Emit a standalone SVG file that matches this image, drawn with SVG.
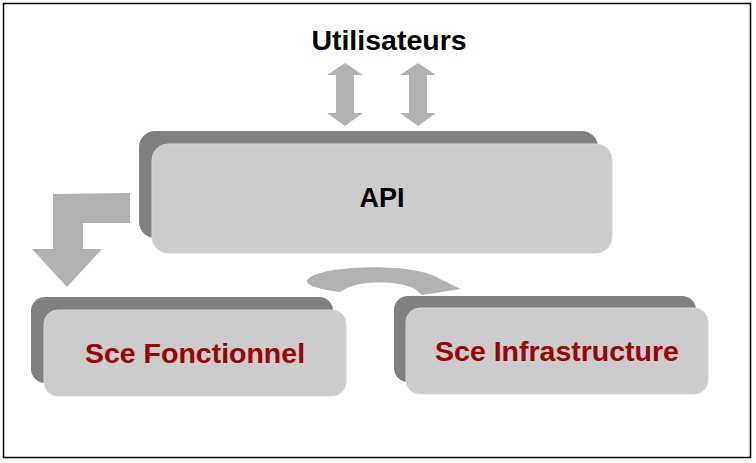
<svg xmlns="http://www.w3.org/2000/svg" width="756" height="463" viewBox="0 0 756 463">
<style>
.back{fill:#808080}
.front{fill:#cccccc;stroke:#d6d6d6;stroke-width:1}
.arrow{fill:#b2b2b2}
.lbl{font-family:"Liberation Sans",Arial,sans-serif;font-weight:bold;font-size:28.5px;text-anchor:middle}
.blk{fill:#000000}
.red{fill:#990000}
</style>
<rect x="0" y="0" width="756" height="463" fill="#ffffff"/>
<rect x="3.5" y="3.5" width="747" height="454" fill="none" stroke="#000000" stroke-width="1.5"/>
<g id="users">
<text class="lbl blk" x="389" y="50">Utilisateurs</text>
</g>
<g id="connectors">
<path class="arrow" d="M345,63 L363,75 L354,75 L354,113 L363,113 L345,126 L327,113 L336,113 L336,75 L327,75 Z"/>
<path class="arrow" d="M418,63 L436,75 L427,75 L427,113 L436,113 L418,126 L400,113 L409,113 L409,75 L400,75 Z"/>
<path class="arrow" d="M53,194 L130,193 L130,223 L83,223 L83,249 L102,249 L67,287 L32,249 L53,249 Z"/>
<path class="arrow" d="M340,292 C322,290 302,285 308,279 C322,265 414,262 440,279 L461,289 L422,295 L415,289 C400,281 360,278 340,292 Z"/>
</g>
<g id="api">
<rect class="back" x="139" y="131" width="459" height="107" rx="16"/>
<rect class="front" x="152" y="144" width="460" height="109" rx="16"/>
<text class="lbl blk" x="382" y="207" style="font-size:27px">API</text>
</g>
<g id="sce-fonctionnel">
<rect class="back" x="31" y="297" width="302" height="86" rx="14"/>
<rect class="front" x="44" y="310" width="302" height="86" rx="14"/>
<text class="lbl red" x="195" y="363">Sce Fonctionnel</text>
</g>
<g id="sce-infrastructure">
<rect class="back" x="394" y="296" width="302" height="86" rx="14"/>
<rect class="front" x="406" y="308" width="302" height="86" rx="14"/>
<text class="lbl red" x="557" y="361">Sce Infrastructure</text>
</g>
</svg>
